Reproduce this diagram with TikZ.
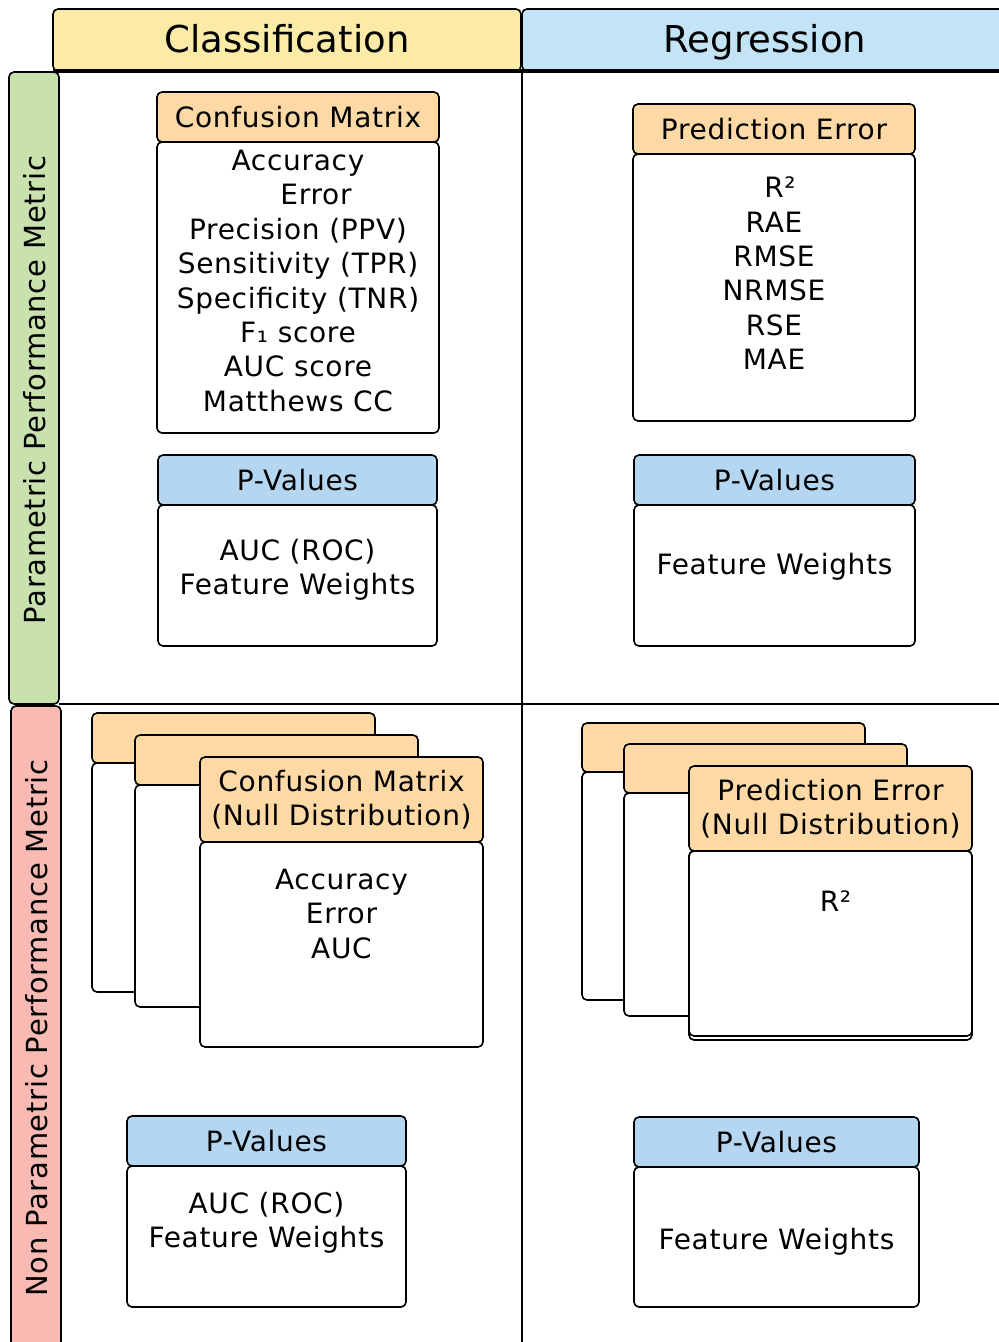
\documentclass[tikz,border=0pt]{standalone}
\usepackage{fontspec}
\setmainfont{DejaVu Sans}
\newfontfamily\spacedfont[LetterSpace=2.5]{DejaVu Sans}
\usetikzlibrary{positioning}
\definecolor{clsyellow}{HTML}{FCEBA6}
\definecolor{regblue}{HTML}{C3E4F6}
\definecolor{pargreen}{HTML}{C8E1AD}
\definecolor{nonpink}{HTML}{F8BAB2}
\definecolor{cmorange}{HTML}{FDD9A6}
\definecolor{pvblue}{HTML}{B4D6F0}
\newcommand{\headfont}{\fontsize{37}{40}\selectfont}
\newcommand{\sidefont}{\spacedfont\fontsize{29}{32}\selectfont}
\newcommand{\metricfont}{\spacedfont\fontsize{28}{34.4}\selectfont}
\tikzstyle{band}=[rectangle,draw=black,line width=1.6pt,rounded corners=5pt,inner sep=0pt,outer sep=0pt]
\tikzstyle{head}=[rectangle,draw=black,line width=1.6pt,rounded corners=5pt,inner sep=0pt,outer sep=0pt,minimum width=282pt,minimum height=50pt,fill=cmorange,align=center,font=\metricfont]
\tikzstyle{card}=[rectangle,draw=black,line width=1.6pt,rounded corners=5pt,inner sep=0pt,outer sep=0pt,minimum width=282pt,fill=white]
\tikzstyle{metric}=[inner sep=0pt,outer sep=0pt,align=center,font=\metricfont]
\tikzstyle{grid}=[draw=black,line width=1.6pt]

\begin{document}
\begin{tikzpicture}[x=1pt,y=-1pt]
    \clip (0,0) rectangle (999,1342);

    % Spalten und Zeilen
    \node[band, fill=clsyellow, minimum width=468pt, minimum height=62pt, text height=28pt, text depth=4pt, font=\headfont] (cls) at (287,40) {Classification};
    \node[band, fill=regblue, minimum width=486pt, minimum height=62pt, text height=28pt, text depth=4pt, font=\headfont] (reg) at (765,40) {Regression};
    \node[band, fill=pargreen, minimum width=50pt, minimum height=632pt] (par) at (34,388) {};
    \node[band, fill=nonpink, minimum width=50pt, minimum height=654pt] (non) at (36,1033) {};
    \node[rotate=90, font=\sidefont] (parlbl) at (35,390) {Parametric Performance Metric};
    \node[rotate=90, font=\sidefont] (nonlbl) at (37,1028) {Non Parametric Performance Metric};
    \coordinate (colend) at (522,1342);
    \coordinate (rowend) at (999,704);
    \draw[grid] (reg.south west) -- (colend);
    \draw[grid] (par.south east) -- (rowend);
    \draw[line width=3.5pt] (cls.south west) -- (reg.south east);

    % Klassifikation, parametrisch
    \node[head] (cmH) at (298,117) {Confusion Matrix};
    \node[card, minimum height=291pt, below=0pt of cmH] (cmB) {};
    \node[metric, below=8pt of cmH] (cmT) {Accuracy\\ \hspace*{36pt}Error\\ Precision (PPV)\\ Sensitivity (TPR)\\ Specificity (TNR)\\ F₁ score\\ AUC score\\ Matthews CC};
    \node[head, fill=pvblue, minimum width=279pt] (cpH) at (297.5,480) {P-Values};
    \node[card, minimum width=279pt, minimum height=141pt, below=0pt of cpH] (cpB) {};
    \node[metric, below=34pt of cpH] (cpT) {AUC (ROC)\\ Feature Weights};

    % Regression, parametrisch
    \node[head] (peH) at (774,129) {Prediction Error};
    \node[card, minimum height=267pt, below=0pt of peH] (peB) {};
    \node[metric, below=23pt of peH] (peT) {\hspace*{12pt}R²\\ RAE\\ RMSE\\ NRMSE\\ RSE\\ MAE};
    \node[head, fill=pvblue, minimum width=281pt] (ppH) at (774.5,480) {P-Values};
    \node[card, minimum width=281pt, minimum height=141pt, below=0pt of ppH] (ppB) {};
    \node[metric, below=48pt of ppH] (ppT) {Feature Weights};

    % Klassifikation, nicht parametrisch
    \node[head, minimum width=283pt] (cn1H) at (233.5,738) {};
    \node[card, minimum width=283pt, minimum height=229pt, below=0pt of cn1H] (cn1B) {};
    \node[head, minimum width=283pt] (cn2H) at (276.5,760) {};
    \node[card, minimum width=283pt, minimum height=222pt, below=0pt of cn2H] (cn2B) {};
    \node[head, minimum width=283pt, minimum height=85pt] (cnH) at (341.5,799.5) {Confusion Matrix\\(Null Distribution)};
    \node[card, minimum width=283pt, minimum height=205pt, below=0pt of cnH] (cnB) {};
    \node[metric, below=27pt of cnH] (cnT) {Accuracy\\ Error\\ AUC};
    \node[head, fill=pvblue, minimum width=279pt] (npH) at (266.5,1141) {P-Values};
    \node[card, minimum width=279pt, minimum height=141pt, below=0pt of npH] (npB) {};
    \node[metric, below=26pt of npH] (npT) {AUC (ROC)\\ Feature Weights};

    % Regression, nicht parametrisch
    \node[head, minimum width=283pt, minimum height=49pt] (rn1H) at (723.5,747.5) {};
    \node[card, minimum width=283pt, minimum height=228pt, below=0pt of rn1H] (rn1B) {};
    \node[head, minimum width=283pt, minimum height=49pt] (rn2H) at (765.5,768.5) {};
    \node[card, minimum width=283pt, minimum height=223pt, below=0pt of rn2H] (rn2B) {};
    \node[head, minimum width=283pt, minimum height=85pt] (rnH) at (830.5,808.5) {Prediction Error\\(Null Distribution)};
    \node[card, minimum width=283pt, minimum height=189pt, below=0pt of rnH] (rnS) {};
    \node[card, minimum width=283pt, minimum height=185pt, below=0pt of rnH] (rnB) {};
    \node[metric, below=40pt of rnH] (rnT) {\hspace*{10pt}R²};
    \node[head, fill=pvblue, minimum width=285pt] (rpH) at (776.5,1142) {P-Values};
    \node[card, minimum width=285pt, minimum height=140pt, below=0pt of rpH] (rpB) {};
    \node[metric, below=61pt of rpH] (rpT) {Feature Weights};

\end{tikzpicture}
\end{document}
